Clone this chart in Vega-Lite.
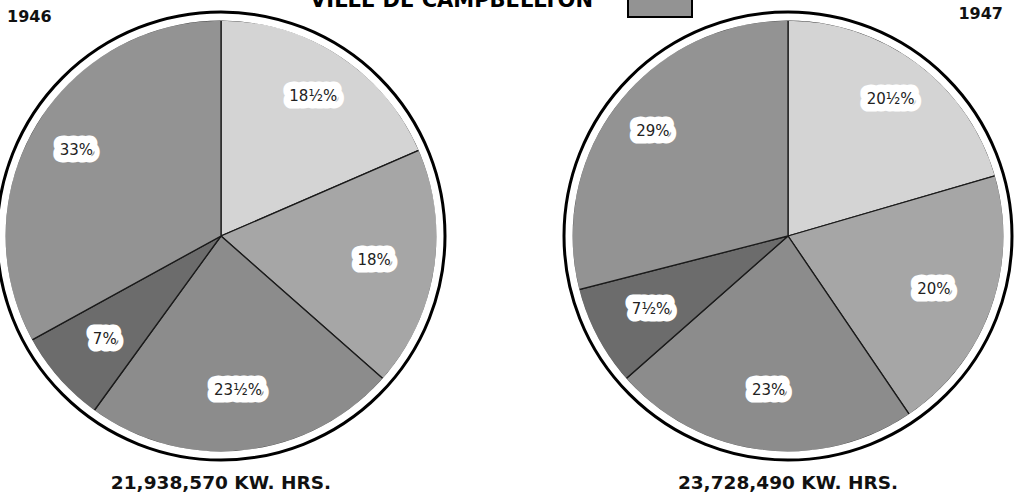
{
  "$schema": "https://vega.github.io/schema/vega-lite/v6.json",
  "width": 1009,
  "height": 472,
  "autosize": {"type": "none"},
  "padding": {"left": 0, "top": 0, "right": 12, "bottom": 23},
  "background": "white",
  "config": {"view": {"stroke": null}},
  "datasets": {
    "shares": [
      {"year": 1946, "order": 1, "cat": "s1", "pct": 18.5, "label": "18½%"},
      {"year": 1946, "order": 2, "cat": "s2", "pct": 18, "label": "18%"},
      {"year": 1946, "order": 3, "cat": "s3", "pct": 23.5, "label": "23½%"},
      {"year": 1946, "order": 4, "cat": "s4", "pct": 7, "label": "7%"},
      {"year": 1946, "order": 5, "cat": "VILLE DE CAMPBELLTON", "pct": 33, "label": "33%"},
      {"year": 1947, "order": 1, "cat": "s1", "pct": 20.5, "label": "20½%"},
      {"year": 1947, "order": 2, "cat": "s2", "pct": 20, "label": "20%"},
      {"year": 1947, "order": 3, "cat": "s3", "pct": 23, "label": "23%"},
      {"year": 1947, "order": 4, "cat": "s4", "pct": 7.5, "label": "7½%"},
      {"year": 1947, "order": 5, "cat": "VILLE DE CAMPBELLTON", "pct": 29, "label": "29%"}
    ],
    "totals": [
      {"year": 1946, "total": "21,938,570 KW. HRS."},
      {"year": 1947, "total": "23,728,490 KW. HRS."}
    ]
  },
  "encoding": {
    "x": {"field": "year", "type": "ordinal", "scale": {"type": "point", "padding": 0.38977}, "axis": null}
  },
  "layer": [
    {
      "data": {"name": "shares"},
      "transform": [{"filter": "datum.year == 1946"}],
      "encoding": {
        "theta": {"field": "pct", "type": "quantitative", "stack": true},
        "order": {"field": "order", "type": "quantitative"}
      },
      "layer": [
        {
          "mark": {"type": "arc", "outerRadius": 216, "stroke": "#1a1a1a", "strokeWidth": 1.3},
          "encoding": {
            "fill": {
              "field": "cat", "type": "nominal",
              "scale": {"domain": ["s1", "s2", "s3", "s4", "VILLE DE CAMPBELLTON"], "range": ["#d4d4d4", "#a6a6a6", "#8c8c8c", "#6c6c6c", "#939393"]},
              "legend": {"values": ["VILLE DE CAMPBELLTON"], "orient": "none", "legendX": 627, "legendY": -26, "title": null, "symbolType": "M-1,-0.5H1V0.3125H-1Z", "symbolSize": 4096, "symbolStrokeColor": "black", "symbolStrokeWidth": 2, "symbolOpacity": 1, "labelAlign": "right", "labelOffset": -100, "labelBaseline": "alphabetic", "labelFont": "DejaVu Sans", "labelFontWeight": "bold", "labelFontSize": 21, "labelColor": "black", "labelLimit": 600, "padding": 0, "rowPadding": 0}
            }
          }
        }
      ]
    },
    {
      "data": {"name": "shares"},
      "transform": [{"filter": "datum.year == 1947"}],
      "encoding": {
        "theta": {"field": "pct", "type": "quantitative", "stack": true},
        "order": {"field": "order", "type": "quantitative"}
      },
      "layer": [
        {
          "mark": {"type": "arc", "outerRadius": 216, "stroke": "#1a1a1a", "strokeWidth": 1.3},
          "encoding": {
            "fill": {
              "field": "cat", "type": "nominal",
              "scale": {"domain": ["s1", "s2", "s3", "s4", "VILLE DE CAMPBELLTON"], "range": ["#d4d4d4", "#a6a6a6", "#8c8c8c", "#6c6c6c", "#939393"]},
              "legend": {"values": ["VILLE DE CAMPBELLTON"], "orient": "none", "legendX": 627, "legendY": -26, "title": null, "symbolType": "M-1,-0.5H1V0.3125H-1Z", "symbolSize": 4096, "symbolStrokeColor": "black", "symbolStrokeWidth": 2, "symbolOpacity": 1, "labelAlign": "right", "labelOffset": -100, "labelBaseline": "alphabetic", "labelFont": "DejaVu Sans", "labelFontWeight": "bold", "labelFontSize": 21, "labelColor": "black", "labelLimit": 600, "padding": 0, "rowPadding": 0}
            }
          }
        }
      ]
    },
    {
      "data": {"name": "totals"},
      "mark": {"type": "arc", "theta": 0, "theta2": 6.2832, "innerRadius": 215.4, "outerRadius": 222.4, "fill": "white", "stroke": null}
    },
    {
      "data": {"name": "totals"},
      "mark": {"type": "arc", "theta": 0, "theta2": 6.2832, "radius": 224, "fill": null, "filled": false, "stroke": "black", "strokeWidth": 3}
    },
    {
      "data": {"name": "shares"},
      "transform": [{"filter": "datum.year == 1946"}],
      "encoding": {
        "theta": {"field": "pct", "type": "quantitative", "stack": true},
        "order": {"field": "order", "type": "quantitative"},
        "text": {"field": "label"}
      },
      "layer": [
        {"mark": {"type": "text", "radius": {"expr": "datum.order == 1 || datum.order == 5 ? 168 : 155"}, "font": "DejaVu Sans", "fontSize": 15, "fill": "white", "stroke": "white", "strokeWidth": 15, "strokeJoin": "round"}},
        {"mark": {"type": "text", "radius": {"expr": "datum.order == 1 || datum.order == 5 ? 168 : 155"}, "font": "DejaVu Sans", "fontSize": 15, "fill": "#222"}}
      ]
    },
    {
      "data": {"name": "shares"},
      "transform": [{"filter": "datum.year == 1947"}],
      "encoding": {
        "theta": {"field": "pct", "type": "quantitative", "stack": true},
        "order": {"field": "order", "type": "quantitative"},
        "text": {"field": "label"}
      },
      "layer": [
        {"mark": {"type": "text", "radius": {"expr": "datum.order == 1 || datum.order == 5 ? 171 : 155"}, "font": "DejaVu Sans", "fontSize": 15, "fill": "white", "stroke": "white", "strokeWidth": 15, "strokeJoin": "round"}},
        {"mark": {"type": "text", "radius": {"expr": "datum.order == 1 || datum.order == 5 ? 171 : 155"}, "font": "DejaVu Sans", "fontSize": 15, "fill": "#222"}}
      ]
    },
    {
      "data": {"name": "totals"},
      "mark": {"type": "text", "font": "DejaVu Sans", "fontWeight": "bold", "fontSize": 18.5, "baseline": "alphabetic", "dy": 253, "fill": "#111"},
      "encoding": {"text": {"field": "total"}}
    },
    {
      "data": {"name": "totals"},
      "transform": [{"filter": "datum.year == 1946"}],
      "mark": {"type": "text", "font": "DejaVu Sans", "fontWeight": "bold", "fontSize": 16, "baseline": "alphabetic", "align": "left", "dx": -214, "dy": -214, "fill": "#111"},
      "encoding": {"text": {"field": "year", "type": "nominal"}}
    },
    {
      "data": {"name": "totals"},
      "transform": [{"filter": "datum.year == 1947"}],
      "mark": {"type": "text", "font": "DejaVu Sans", "fontWeight": "bold", "fontSize": 16, "baseline": "alphabetic", "align": "right", "dx": 215, "dy": -217, "fill": "#111"},
      "encoding": {"text": {"field": "year", "type": "nominal"}}
    }
  ]
}
